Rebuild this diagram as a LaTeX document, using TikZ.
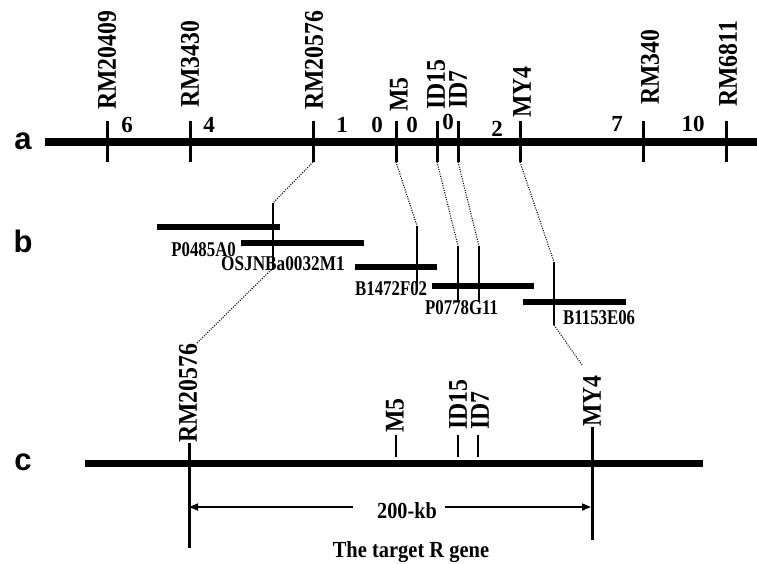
\documentclass[tikz,border=0pt]{standalone}
\usepackage{fontspec}
\setmainfont{Liberation Serif}
\newfontfamily\panelfont{Liberation Sans}
\usetikzlibrary{arrows.meta}

% narrow bold serif lettering
\newcommand{\narrow}[2]{\scalebox{#1}[1]{#2}}

\tikzset{
  chrom/.style={line width=7.5pt},
  marktick/.style={line width=3pt},
  clonebar/.style={line width=5.5pt},
  clonepos/.style={line width=1.8pt},
  guide/.style={line width=1.1pt, dash pattern=on 1pt off 1.4pt},
  vlabel/.style={rotate=90, anchor=west, inner sep=0pt,
    font=\fontsize{27}{27}\selectfont\bfseries},
  dist/.style={inner sep=0pt, font=\fontsize{23}{23}\selectfont\bfseries},
  note/.style={inner sep=0pt, font=\fontsize{23}{23}\selectfont\bfseries},
  clonelabel/.style={inner sep=0pt, font=\fontsize{21}{21}\selectfont\bfseries},
  panel/.style={inner sep=0pt, font=\fontsize{31}{31}\selectfont\panelfont\bfseries},
  span/.style={line width=1.6pt, -{Triangle[length=9pt,width=7pt]}},
}

\begin{document}
\begin{tikzpicture}[x=1pt, y=-1pt]
\useasboundingbox (0,0) rectangle (757,563);

% ---------------- panel a: genetic map ----------------
\node[panel] (pa) at (23,141) {a};
\coordinate (aL) at (45,142);
\coordinate (aR) at (757,142);
\draw[chrom] (aL) -- (aR);

\foreach \n/\x/\lx/\lb/\t in {
  1/107/107/110/RM20409,
  2/190/190/108/RM3430,
  3/313/314/110/RM20576,
  4/396/399/112/M5,
  5/437/436/110/ID15,
  6/458/458/109/ID7,
  7/520/522/118/MY4,
  8/643/650/105/RM340,
  9/726/728/107/RM6811}{
  \coordinate (a\n t) at (\x,121);
  \coordinate (a\n b) at (\x,162);
  \draw[marktick] (a\n t) -- (a\n b);
  \node[vlabel] (a\n lab) at (\lx,\lb) {\narrow{0.88}{\t}};
}

% genetic distances between markers
\node[dist] (d1) at (127,125) {6};
\node[dist] (d2) at (209,125) {4};
\node[dist] (d3) at (342,125) {1};
\node[dist] (d4) at (377,125) {0};
\node[dist] (d5) at (412,125) {0};
\node[dist] (d6) at (448,122) {0};
\node[dist] (d7) at (497,129) {2};
\node[dist] (d8) at (617,124) {7};
\node[dist] (d9) at (693,124) {10};

% ---------------- panel b: BAC/PAC contig ----------------
\node[panel] (pb) at (23,241) {b};

\coordinate (c1w) at (157,227); \coordinate (c1e) at (280,227);
\coordinate (c2w) at (241,243); \coordinate (c2e) at (364,243);
\coordinate (c3w) at (355,267); \coordinate (c3e) at (437,267);
\coordinate (c4w) at (432,286); \coordinate (c4e) at (534,286);
\coordinate (c5w) at (523,302); \coordinate (c5e) at (626,302);
\foreach \i in {1,...,5} \draw[clonebar] (c\i w) -- (c\i e);

\node[clonelabel, anchor=base east] (l1) at (236,256) {\narrow{0.8}{P0485A0}};
\node[clonelabel, anchor=base west] (l2) at (221,270) {\narrow{0.82}{OSJNBa0032M1}};
\node[clonelabel, anchor=base west] (l3) at (355,295) {\narrow{0.8}{B1472F02}};
\node[clonelabel, anchor=base west] (l4) at (425,314) {\narrow{0.8}{P0778G11}};
\node[clonelabel, anchor=base west] (l5) at (563,324) {\narrow{0.8}{B1153E06}};

% marker positions on the contig
\coordinate (v1t) at (273,203); \coordinate (v1b) at (273,268);
\coordinate (v2t) at (417,226); \coordinate (v2b) at (417,288);
\coordinate (v3t) at (458,246); \coordinate (v3b) at (458,302);
\coordinate (v4t) at (479,246); \coordinate (v4b) at (479,302);
\coordinate (v5t) at (554,262); \coordinate (v5b) at (554,325);
\foreach \i in {1,...,5} \draw[clonepos] (v\i t) -- (v\i b);

\draw[guide] (a3b) -- (v1t);
\draw[guide] (a4b) -- (v2t);
\draw[guide] (a5b) -- (v3t);
\draw[guide] (a6b) -- (v4t);
\draw[guide] (a7b) -- (v5t);

% ---------------- panel c: physical map ----------------
\node[panel] (pc) at (23,462) {c};
\coordinate (cL) at (85,463);
\coordinate (cR) at (703,463);
\draw[chrom, line width=7pt] (cL) -- (cR);

\node[vlabel] (crm) at (188,443) {\narrow{0.88}{RM20576}};
\node[vlabel] (cm5) at (395,433) {\narrow{0.88}{M5}};
\node[vlabel] (cid15) at (458,430) {\narrow{0.88}{ID15}};
\node[vlabel] (cid7) at (480,430) {\narrow{0.88}{ID7}};
\node[vlabel] (cmy4) at (592,427) {\narrow{0.88}{MY4}};

\coordinate (crmb) at (189,548);
\coordinate (cmy4b) at (592,540);
\draw[marktick] (189,443) -- (crmb);
\draw[marktick] (592,427) -- (cmy4b);
\draw[line width=2.5pt] (396,435) -- (396,457);
\draw[line width=2.5pt] (458,435) -- (458,457);
\draw[line width=2.5pt] (478,435) -- (478,457);

\coordinate (crmtop) at (197,343);
\coordinate (cmy4top) at (582,365);
\draw[guide] (v1b) -- (crmtop);
\draw[guide] (v5b) -- (cmy4top);

% 200-kb interval
\node[note, anchor=base] (kb) at (407,518) {\narrow{0.88}{200-kb}};
\coordinate (sl) at (353,507);
\coordinate (sr) at (445,507);
\coordinate (tl) at (189,507);
\coordinate (tr) at (591,507);
\draw[span] (sl) -- (tl);
\draw[span] (sr) -- (tr);
\node[note, anchor=base] (gene) at (411,557) {\narrow{0.89}{The target R gene}};
\end{tikzpicture}
\end{document}
